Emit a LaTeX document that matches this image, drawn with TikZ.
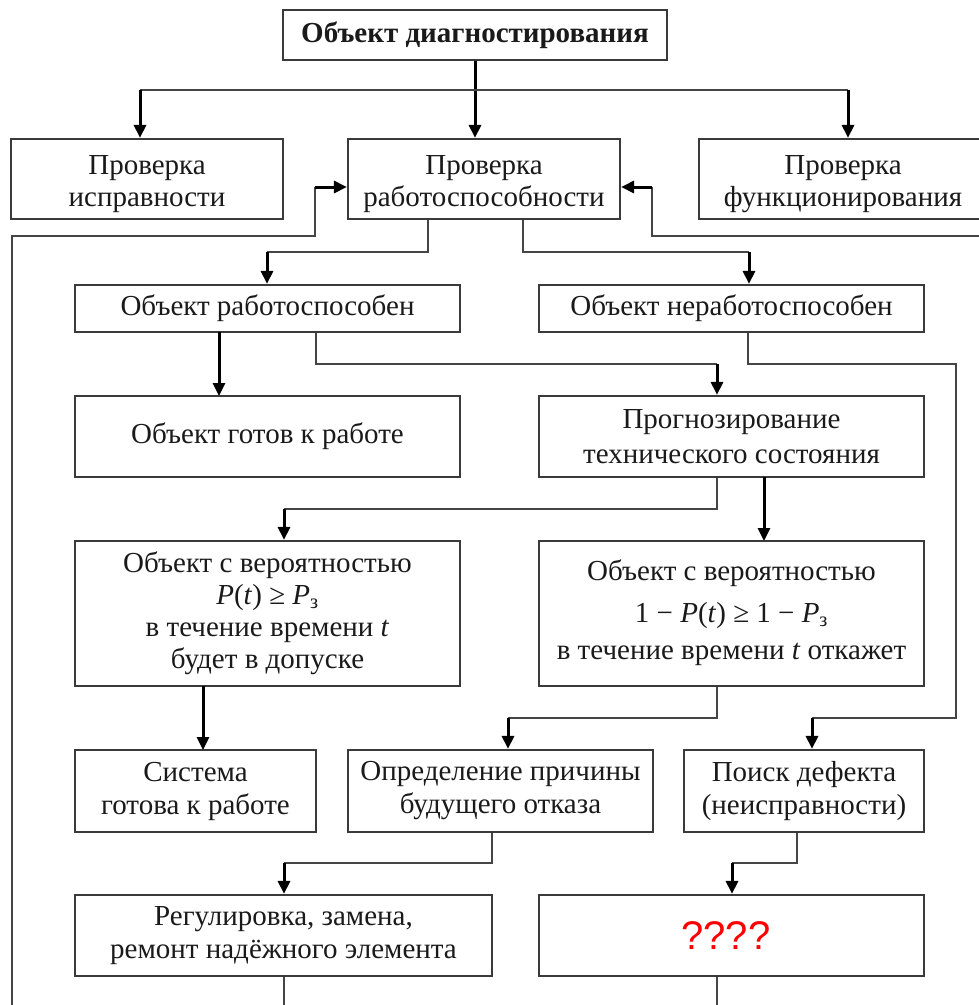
\documentclass[tikz,border=0pt]{standalone}
\usepackage{fontspec}
\setmainfont{Liberation Serif}
\newfontfamily\qfont{Liberation Sans}
\usetikzlibrary{arrows.meta}
\definecolor{boxc}{HTML}{3A3A3A}
\definecolor{linec}{HTML}{454545}
\definecolor{qred}{HTML}{FF0000}
\definecolor{txt}{HTML}{1A1A1A}
\newcommand{\mystrut}{\rule{0pt}{29pt}}
\newcommand{\mydepth}{\rule[-8pt]{0pt}{0pt}}
\begin{document}
\begin{tikzpicture}[x=1pt,y=-1pt,
  box/.style={draw=boxc, line width=2.2pt, inner sep=0pt, align=center,
    font=\fontsize{29}{33}\selectfont, text=txt, fill=white},
  conn/.style={draw=linec, line width=2pt},
  arr/.style={draw=black, line width=3pt, -{Triangle[length=13pt,width=12pt]}}]
\clip (0,0) rectangle (979,1005);
\fill[white] (0,0) rectangle (979,1005);
% nodes
\node[box, minimum width=384pt, minimum height=50pt, font=\fontsize{29}{33}\selectfont\bfseries] (title) at (475,35) {Объект диагностирования};
\node[box, minimum width=272pt, minimum height=80pt, font=\fontsize{29}{32}\selectfont] (isp) at (147,179) {\mystrut Проверка\\исправности};
\node[box, minimum width=272pt, minimum height=80pt, font=\fontsize{29}{32}\selectfont] (rab) at (484,179) {\mystrut Проверка\\работоспособности};
\node[box, minimum width=288pt, minimum height=80pt, font=\fontsize{29}{32}\selectfont] (func) at (843,179) {\mystrut Проверка\\функционирования};
\node[box, minimum width=385pt, minimum height=47pt] (rabsp) at (267.5,308.5) {Объект работоспособен};
\node[box, minimum width=385pt, minimum height=47pt] (nerab) at (731.5,308.5) {Объект неработоспособен};
\node[box, minimum width=385pt, minimum height=81pt] (gotov) at (267.5,436.5) {Объект готов к работе};
\node[box, minimum width=385pt, minimum height=81pt, font=\fontsize{29}{35}\selectfont] (prog) at (731.5,436.5) {Прогнозирование\\технического состояния};
\node[box, minimum width=385pt, minimum height=145pt, font=\fontsize{29}{32}\selectfont] (ver1) at (267.5,613.5) {Объект с вероятностью\\\textit{P}(\textit{t}) ≥ \textit{P}\textsubscript{з}\\в течение времени \textit{t}\\будет в допуске};
\node[box, minimum width=385pt, minimum height=145pt, font=\fontsize{29}{32}\selectfont] (ver2) at (731.5,613.5) {Объект с вероятностью\\[10pt]1 − \textit{P}(\textit{t}) ≥ 1 − \textit{P}\textsubscript{з}\\[5pt]в течение времени \textit{t} откажет\mydepth};
\node[box, minimum width=241pt, minimum height=82pt] (sys) at (195.5,791) {Система\\готова к работе};
\node[box, minimum width=305pt, minimum height=82pt] (opr) at (500.5,791) {Определение причины\\будущего отказа};
\node[box, minimum width=240pt, minimum height=82pt] (poisk) at (804,791) {Поиск дефекта\\(неисправности)};
\node[box, minimum width=417pt, minimum height=81pt] (reg) at (283.5,935.5) {Регулировка, замена,\\ремонт надёжного элемента};
\node[box, minimum width=385pt, minimum height=81pt, font=\qfont\fontsize{40}{44}\selectfont, text=qred] (q) at (731.5,935.5) {????\hspace*{11pt}};
% coordinates
\coordinate (hl) at (140,90);
\coordinate (hr) at (848,90);
\coordinate (fbL0) at (12,1010);
\coordinate (fbL1) at (315,236);
\coordinate (fbL2) at (315,187);
\coordinate (fbR0) at (990,236);
\coordinate (fbR1) at (652,236);
\coordinate (fbR2) at (652,187);
\coordinate (a0) at (428,252);
\coordinate (a1) at (267,252);
\coordinate (b0) at (523,252);
\coordinate (b1) at (749,252);
\coordinate (c0) at (316,364);
\coordinate (c1) at (717,364);
\coordinate (d0) at (748,364);
\coordinate (d1) at (956,718);
\coordinate (d2) at (812,718);
\coordinate (e0) at (717,509);
\coordinate (e1) at (284,509);
\coordinate (f0) at (717,718);
\coordinate (f1) at (508,718);
\coordinate (g0) at (492,863);
\coordinate (g1) at (284,863);
\coordinate (h0) at (797,863);
\coordinate (h1) at (732,863);
\coordinate (endL) at (284,1010);
\coordinate (endR) at (717,1010);
% connectors
\draw[arr] (title.south) -- (title.south |- rab.north);
\draw[conn] (hl) -- (hr);
\draw[arr] (hl) -- (hl |- isp.north);
\draw[arr] (hr) -- (hr |- func.north);
\draw[conn] (fbL0) |- (fbL1) -- (fbL2);
\draw[arr] (fbL2) -- (rab.west |- fbL2);
\draw[conn] (fbR0) -- (fbR1) -- (fbR2);
\draw[arr] (fbR2) -- (rab.east |- fbR2);
\draw[conn] (a0 |- rab.south) -- (a0) -- (a1);
\draw[arr] (a1) -- (a1 |- rabsp.north);
\draw[conn] (b0 |- rab.south) -- (b0) -- (b1);
\draw[arr] (b1) -- (b1 |- nerab.north);
\draw[arr] (219,332) -- (219,396);
\draw[conn] (c0 |- rabsp.south) -- (c0) -- (c1);
\draw[arr] (c1) -- (c1 |- prog.north);
\draw[conn] (d0 |- nerab.south) -- (d0) -| (d1) -- (d2);
\draw[arr] (d2) -- (d2 |- poisk.north);
\draw[conn] (e0 |- prog.south) -- (e0) -- (e1);
\draw[arr] (e1) -- (e1 |- ver1.north);
\draw[arr] (764,477) -- (764,541);
\draw[arr] (203,686) -- (203,750);
\draw[conn] (f0 |- ver2.south) -- (f0) -- (f1);
\draw[arr] (f1) -- (f1 |- opr.north);
\draw[conn] (g0 |- opr.south) -- (g0) -- (g1);
\draw[arr] (g1) -- (g1 |- reg.north);
\draw[conn] (h0 |- poisk.south) -- (h0) -- (h1);
\draw[arr] (h1) -- (h1 |- q.north);
\draw[conn] (reg.south -| endL) -- (endL);
\draw[conn] (q.south -| endR) -- (endR);
\end{tikzpicture}
\end{document}
